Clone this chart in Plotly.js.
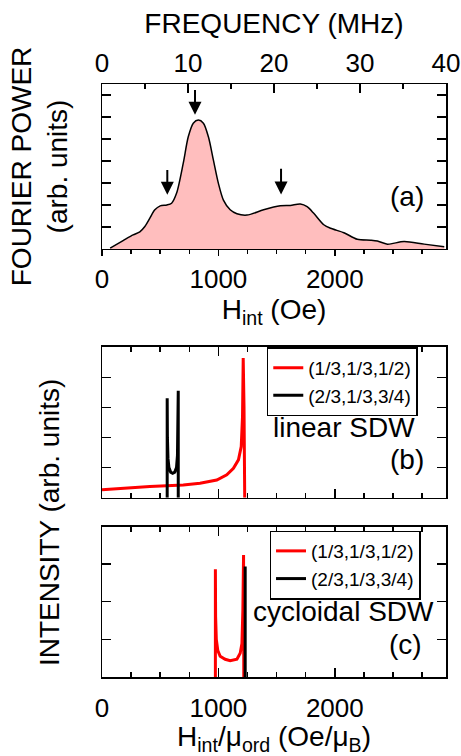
<!DOCTYPE html>
<html>
<head>
<meta charset="utf-8">
<script src="https://cdn.plot.ly/plotly-3.0.1.min.js"></script>
<style>html,body{margin:0;padding:0;background:#fff;}</style>
</head>
<body>
<div id="chart" style="width:461px;height:756px;"></div>
<script>
// ---- Panel (a): Fourier power vs internal field ----
const fourierH = [70, 181, 267, 325, 368, 411, 454, 500, 557, 598, 641, 698, 741, 784, 828, 871, 914, 957, 1000, 1043, 1101, 1159, 1245, 1388, 1532, 1618, 1704, 1762, 1819, 1905, 1963, 2078, 2193, 2308, 2366, 2452, 2595, 2767, 2940];
const fourierP = [0.02, 0.19, 0.32, 0.39, 0.51, 0.70, 0.89, 0.98, 1.00, 1.04, 1.27, 1.95, 2.55, 2.86, 2.93, 2.86, 2.55, 2.02, 1.49, 1.11, 0.89, 0.80, 0.77, 0.89, 0.98, 0.99, 1.02, 0.96, 0.81, 0.55, 0.47, 0.37, 0.22, 0.20, 0.18, 0.11, 0.17, 0.11, 0.05];
const arrowH = [561, 799, 1538];
const arrowTip = [1.23, 3.05, 1.24];
const arrowTail = [1.83, 3.65, 1.86];

// top axis: frequency (MHz)
const freqTickVals = [0, 10, 20, 30, 40];

// ---- Panel (b): linear SDW ----
const linRedH = [0, 181, 411, 698, 842, 986, 1072, 1129, 1172, 1196, 1207, 1213, 1220, 1226];
const linRedI = [0.26, 0.31, 0.37, 0.42, 0.48, 0.59, 0.76, 0.98, 1.26, 1.70, 2.70, 4.65, 3.00, 0.00];
const linBlackH = [560, 560, 562, 567, 575, 590, 607, 625, 640, 648, 652, 655, 655];
const linBlackI = [0.00, 3.31, 2.00, 1.30, 1.00, 0.85, 0.81, 0.85, 1.00, 1.40, 2.20, 3.56, 0.00];

// ---- Panel (c): cycloidal SDW ----
const cycRedH = [974, 974, 976, 982, 995, 1015, 1058, 1101, 1159, 1187, 1202, 1210, 1216, 1218];
const cycRedI = [0.00, 2.86, 1.60, 1.00, 0.70, 0.55, 0.47, 0.43, 0.47, 0.63, 0.89, 1.78, 3.24, 0.00];
const cycBlackH = [1230, 1230];
const cycBlackI = [0.00, 2.93];

const legendNames = ['(1/3,1/3,1/2)', '(2/3,1/3,3/4)'];

const FONT = 'Liberation Sans, Arial, Helvetica, sans-serif';

const traces = [
  {x: fourierH, y: fourierP, xaxis: 'x', yaxis: 'y', type: 'scatter', mode: 'lines',
   line: {color: 'black', width: 1.5, shape: 'spline', smoothing: 0.8},
   fill: 'tozeroy', fillcolor: 'rgb(255,190,190)', showlegend: false, hoverinfo: 'skip'},
  // carrier for the top frequency axis (no visible marks)
  {x: freqTickVals, y: freqTickVals.map(() => null), xaxis: 'x2', yaxis: 'y', type: 'scatter',
   mode: 'lines', showlegend: false, hoverinfo: 'skip', line: {width: 0}},
  {x: linRedH, y: linRedI, xaxis: 'x3', yaxis: 'y3', type: 'scatter', mode: 'lines',
   line: {color: 'rgb(255,0,0)', width: 3}, name: legendNames[0], legend: 'legend'},
  {x: linBlackH, y: linBlackI, xaxis: 'x3', yaxis: 'y3', type: 'scatter', mode: 'lines',
   line: {color: 'black', width: 3}, name: legendNames[1], legend: 'legend'},
  {x: cycRedH, y: cycRedI, xaxis: 'x4', yaxis: 'y4', type: 'scatter', mode: 'lines',
   line: {color: 'rgb(255,0,0)', width: 3}, name: legendNames[0], legend: 'legend2'},
  {x: cycBlackH, y: cycBlackI, xaxis: 'x4', yaxis: 'y4', type: 'scatter', mode: 'lines',
   line: {color: 'black', width: 3}, name: legendNames[1], legend: 'legend2'}
];

const axBase = {
  showline: true, linecolor: 'black', linewidth: 1.5, showgrid: false, zeroline: false,
  tickcolor: 'black', tickwidth: 1.5, tickfont: {size: 26, family: FONT, color: 'black'}
};

const xb = (extra) => Object.assign({}, axBase, {
  range: [0, 2955], tick0: 0, dtick: 1000,
  ticks: 'inside', ticklen: 9,
  minor: {dtick: 250, ticklen: 5, tickwidth: 1.5, tickcolor: 'black', ticks: 'inside'},
  mirror: 'allticks'
}, extra);

const annotations = [];
for (let i = 0; i < arrowH.length; i++) {
  annotations.push({xref: 'x', yref: 'y', x: arrowH[i], y: arrowTip[i], axref: 'x', ayref: 'y',
    ax: arrowH[i], ay: arrowTail[i], text: '', showarrow: true, arrowhead: 2, arrowsize: 1.3,
    arrowwidth: 2, arrowcolor: 'black'});
}
annotations.push(
  {xref: 'x', yref: 'y', x: 2782, y: 1.19, text: '(a)', showarrow: false, xanchor: 'right', yanchor: 'middle', font: {size: 28}},
  {xref: 'x3', yref: 'y3', x: 2710, y: 2.33, text: 'linear SDW', showarrow: false, xanchor: 'right', yanchor: 'middle', font: {size: 28}},
  {xref: 'x3', yref: 'y3', x: 2782, y: 1.26, text: '(b)', showarrow: false, xanchor: 'right', yanchor: 'middle', font: {size: 28}},
  {xref: 'x4', yref: 'y4', x: 2868, y: 1.73, text: 'cycloidal SDW', showarrow: false, xanchor: 'right', yanchor: 'middle', font: {size: 28}},
  {xref: 'x4', yref: 'y4', x: 2767, y: 0.85, text: '(c)', showarrow: false, xanchor: 'right', yanchor: 'middle', font: {size: 28}},
  {xref: 'paper', yref: 'paper', x: -0.151, y: 0.2597, text: 'INTENSITY (arb. units)', textangle: -90,
   showarrow: false, xanchor: 'center', yanchor: 'middle', font: {size: 28}}
);

const legendStyle = {
  xanchor: 'left', yanchor: 'top', bordercolor: 'black', borderwidth: 1.5, bgcolor: 'white',
  font: {size: 19, family: FONT, color: 'black'}, tracegroupgap: 0, itemwidth: 30
};

const layout = {
  width: 461, height: 756,
  margin: {l: 102, r: 15, t: 84, b: 79, pad: 0},
  paper_bgcolor: 'white', plot_bgcolor: 'white',
  font: {family: FONT, size: 26, color: 'black'},
  showlegend: true,
  xaxis: Object.assign({}, axBase, {
    domain: [0, 1], anchor: 'y', range: [0, 2955], tick0: 0, dtick: 1000,
    ticks: 'outside', ticklen: 6, mirror: false,
    minor: {dtick: 250, ticklen: 4, tickwidth: 1.5, tickcolor: 'black', ticks: 'outside'},
    title: {text: 'H<sub>int</sub> (Oe)', font: {size: 28}, standoff: 0}
  }),
  xaxis2: Object.assign({}, axBase, {
    overlaying: 'x', side: 'top', anchor: 'y', range: [0, 40],
    tickvals: freqTickVals, ticks: 'inside', ticklen: 9,
    minor: {dtick: 5, tick0: 0, ticklen: 5, tickwidth: 1.5, tickcolor: 'black', ticks: 'inside'},
    title: {text: 'FREQUENCY (MHz)', font: {size: 28}, standoff: 6}
  }),
  yaxis: Object.assign({}, axBase, {
    domain: [0.7218, 1], anchor: 'x', range: [0, 3.75], tick0: 0, dtick: 1,
    ticks: 'inside', ticklen: 9, mirror: 'allticks', showticklabels: false,
    minor: {dtick: 0.5, ticklen: 5, tickwidth: 1.5, tickcolor: 'black', ticks: 'inside'},
    title: {text: 'FOURIER POWER<br>(arb. units)', font: {size: 28}, standoff: 24}
  }),
  xaxis3: xb({domain: [0, 1], anchor: 'y3', showticklabels: false}),
  yaxis3: Object.assign({}, axBase, {
    domain: [0.3024, 0.557], anchor: 'x3', range: [0, 5.03], tick0: 0, dtick: 1,
    ticks: 'inside', ticklen: 9, mirror: 'allticks', showticklabels: false
  }),
  xaxis4: xb({domain: [0, 1], anchor: 'y4', showticklabels: true, ticklabelstandoff: 7,
    title: {text: 'H<sub>int</sub>/μ<sub>ord</sub> (Oe/μ<sub>B</sub>)', font: {size: 28}, standoff: 9}}),
  yaxis4: Object.assign({}, axBase, {
    domain: [0, 0.2535], anchor: 'x4', range: [0, 3.99], tick0: 0, dtick: 1,
    ticks: 'inside', ticklen: 9, mirror: 'allticks', showticklabels: false
  }),
  legend: Object.assign({}, legendStyle, {x: 0.479, y: 0.556}),
  legend2: Object.assign({}, legendStyle, {x: 0.487, y: 0.247}),
  annotations: annotations
};

Plotly.newPlot('chart', traces, layout, {displayModeBar: false, staticPlot: true});
</script>
</body>
</html>
